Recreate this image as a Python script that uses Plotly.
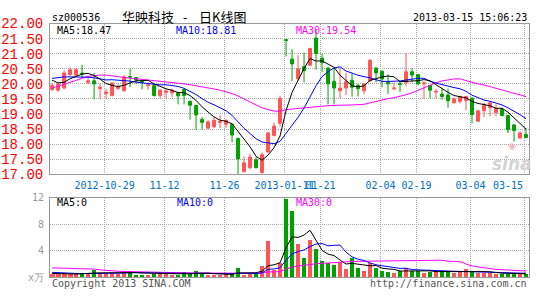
import plotly.graph_objects as go

# ---------------- data ----------------
dates = [
    "2012-10-16", "2012-10-17", "2012-10-18", "2012-10-19", "2012-10-22", "2012-10-23", "2012-10-24",
    "2012-10-25", "2012-10-26", "2012-10-29", "2012-10-30", "2012-10-31", "2012-11-01", "2012-11-02",
    "2012-11-05", "2012-11-06", "2012-11-07", "2012-11-08", "2012-11-09", "2012-11-12", "2012-11-13",
    "2012-11-14", "2012-11-15", "2012-11-16", "2012-11-19", "2012-11-20", "2012-11-21", "2012-11-22",
    "2012-11-23", "2012-11-26", "2012-11-27", "2012-11-28", "2012-11-29", "2012-11-30", "2012-12-03",
    "2012-12-04", "2012-12-05", "2012-12-06", "2012-12-07", "2013-01-11", "2013-01-14", "2013-01-15",
    "2013-01-16", "2013-01-17", "2013-01-18", "2013-01-21", "2013-01-22", "2013-01-23", "2013-01-24",
    "2013-01-25", "2013-01-28", "2013-01-29", "2013-01-30", "2013-01-31", "2013-02-01", "2013-02-04",
    "2013-02-05", "2013-02-06", "2013-02-07", "2013-02-08", "2013-02-18", "2013-02-19", "2013-02-20",
    "2013-02-21", "2013-02-22", "2013-02-25", "2013-02-26", "2013-02-27", "2013-02-28", "2013-03-01",
    "2013-03-04", "2013-03-05", "2013-03-06", "2013-03-07", "2013-03-08", "2013-03-11", "2013-03-12",
    "2013-03-13", "2013-03-14", "2013-03-15",
]

open_ = [19.81, 19.79, 19.86, 20.31, 20.29, 20.36, 20.05, 20.10, 19.84, 19.68,
         19.61, 19.85, 19.77, 20.24, 20.21, 20.10, 19.94, 19.94, 19.61, 19.72,
         19.70, 19.70, 19.81, 19.42, 19.28, 18.82, 18.53, 18.58, 18.72, 18.66,
         18.66, 18.19, 17.08, 17.22, 17.48, 17.06, 17.74, 18.29, 18.69, 21.47,
         20.82, 20.17, 20.57, 20.62, 21.52, 20.85, 20.52, 20.08, 19.77, 19.86,
         20.12, 19.95, 19.77, 20.10, 20.52, 20.42, 20.05, 19.84, 20.00, 20.05,
         20.40, 20.31, 20.00, 19.95, 19.73, 19.66, 19.63, 19.37, 19.42, 19.45,
         19.53, 18.76, 19.11, 19.21, 19.05, 19.16, 18.95, 18.64, 18.20, 18.32]
high = [20.02, 20.06, 20.45, 20.55, 20.52, 20.63, 20.26, 20.36, 20.00, 19.84,
        20.05, 20.00, 20.29, 20.50, 20.21, 20.15, 20.05, 20.00, 19.84, 19.84,
        19.84, 19.74, 19.84, 19.45, 19.30, 18.90, 18.79, 18.90, 18.97, 18.82,
        18.69, 18.22, 17.59, 17.69, 17.57, 17.72, 18.40, 18.72, 19.61, 21.47,
        21.15, 20.95, 21.04, 21.20, 21.82, 21.00, 20.57, 20.52, 20.52, 20.36,
        20.36, 20.00, 20.02, 20.82, 20.57, 20.44, 20.31, 20.05, 20.10, 21.02,
        20.52, 20.31, 20.08, 19.95, 19.84, 19.84, 19.84, 19.55, 19.61, 19.58,
        19.53, 19.11, 19.37, 19.42, 19.32, 19.21, 18.97, 18.64, 18.43, 18.53]
low = [19.76, 19.74, 19.82, 20.26, 20.26, 20.21, 19.99, 19.49, 19.49, 19.49,
       19.58, 19.80, 19.74, 19.89, 20.00, 19.82, 19.80, 19.58, 19.52, 19.50,
       19.56, 19.32, 19.32, 18.82, 18.48, 18.48, 18.51, 18.53, 18.53, 18.53,
       18.06, 16.99, 17.08, 17.17, 17.19, 17.02, 17.72, 18.25, 18.58, 20.91,
       20.10, 20.10, 20.05, 20.60, 20.47, 20.40, 19.32, 19.32, 19.52, 19.63,
       19.57, 19.58, 19.66, 20.05, 20.05, 19.89, 19.66, 19.79, 19.73, 19.92,
       20.05, 19.95, 19.50, 19.52, 19.52, 19.47, 19.21, 19.35, 19.35, 19.12,
       18.69, 18.74, 18.90, 18.92, 18.92, 18.92, 18.37, 18.08, 18.20, 18.20]
close = [19.95, 19.99, 20.36, 20.47, 20.47, 20.33, 20.10, 20.00, 19.89, 19.73,
         20.03, 19.90, 20.23, 20.22, 20.13, 20.05, 19.97, 19.61, 19.79, 19.76,
         19.79, 19.60, 19.61, 19.29, 18.97, 18.72, 18.74, 18.79, 18.76, 18.79,
         18.30, 17.51, 17.38, 17.57, 17.22, 17.65, 18.37, 18.60, 19.52, 21.44,
         20.66, 20.50, 20.44, 21.17, 21.01, 20.70, 20.00, 19.86, 19.86, 20.07,
         19.89, 19.84, 20.00, 20.78, 20.36, 20.16, 20.00, 19.86, 19.98, 20.40,
         20.29, 20.00, 20.03, 19.79, 19.75, 19.58, 19.44, 19.50, 19.58, 19.58,
         18.98, 19.11, 19.32, 19.37, 19.18, 18.95, 18.48, 18.45, 18.37, 18.22]
volume = [0.43, 0.43, 0.60, 0.43, 0.43, 0.65, 0.45, 1.10, 0.60, 0.53,
          0.60, 0.45, 1.00, 1.00, 0.36, 0.36, 0.36, 0.53, 0.77, 0.45,
          0.36, 0.36, 0.77, 0.45, 1.00, 0.45, 0.36, 0.36, 0.36, 0.45,
          0.53, 1.35, 0.36, 0.53, 0.53, 1.69, 5.50, 1.10, 2.07, 11.9,
          10.0, 4.96, 2.94, 5.68, 4.24, 2.46, 2.07, 1.88, 2.31, 1.20,
          2.94, 1.35, 1.00, 2.07, 1.35, 1.00, 0.77, 0.63, 0.87, 1.45,
          0.87, 1.00, 0.63, 0.77, 0.87, 0.92, 0.77, 0.63, 0.77, 1.25,
          0.87, 0.63, 0.63, 0.63, 0.53, 0.53, 0.53, 0.45, 0.53, 0.45]

# moving-average values before enough in-window history exists
ma5_head = [20.12, 20.03, 20.05, 20.17]
ma10_head = [20.18, 20.21, 20.23, 20.23, 20.23, 20.23, 20.22, 20.20, 20.17]
ma30_head = [19.86, 19.92, 19.98, 20.04, 20.11, 20.18, 20.25, 20.28, 20.29, 20.29,
             20.26, 20.23, 20.21, 20.19, 20.17, 20.15, 20.13, 20.11, 20.09, 20.08,
             20.06, 20.03, 20.00, 19.97, 19.94, 19.91, 19.87, 19.83, 19.79]
vma5_head = [0.55, 0.50, 0.50, 0.48]
vma10_head = [0.72, 0.65, 0.60, 0.57, 0.55, 0.53, 0.52, 0.52, 0.53]
vma30_head = [1.40, 1.40, 1.38, 1.32, 1.28, 1.27, 1.26, 1.22, 1.10, 1.00,
              0.93, 0.88, 0.85, 0.82, 0.80, 0.79, 0.77, 0.76, 0.75, 0.74,
              0.70, 0.67, 0.65, 0.63, 0.62, 0.61, 0.60, 0.59, 0.57]

tick_dates = ["2012-10-29", "2012-11-12", "2012-11-26", "2013-01-11", "2013-01-21",
              "2013-02-04", "2013-02-19", "2013-03-04", "2013-03-15"]
tick_text = ["2012-10-29", "11-12", "11-26", "2013-01-11", "01-21",
             "02-04", "02-19", "03-04", "03-15"]
price_ticks = [17.0, 17.5, 18.0, 18.5, 19.0, 19.5, 20.0, 20.5, 21.0, 21.5, 22.0]
vol_ticks = [0, 4, 8, 12]
vol_tick_text = ["x万", "4", "8", "12"]
ma_last = [18.47, 18.81, 19.54]
vol_ma_last = [0, 0, 0]

# ---------------- helpers ----------------
W, H = 545, 300
def px(x):
    return x / W
def py(y):
    return 1 - y / H

def rolling(vals, n, head):
    out = list(head)
    for i in range(len(head), len(vals)):
        out.append(sum(vals[i - n + 1:i + 1]) / n)
    return out

xs = list(range(len(dates)))
grid_x = [dates.index(d) - 0.25 for d in tick_dates]

RED = "#FF5555"
GREEN = "#00A000"
MONO = "DejaVu Sans Mono"
GRID = "#A8A8A8"
BORDER = "#9A9A9A"
XLAB = "#0070C8"

ma5 = rolling(close, 5, ma5_head)
ma10 = rolling(close, 10, ma10_head)
ma30 = rolling(close, 30, ma30_head)
vma5 = rolling(volume, 5, vma5_head)
vma10 = rolling(volume, 10, vma10_head)
vma30 = rolling(volume, 30, vma30_head)
vol_colors = [RED if c > o else GREEN for o, c in zip(open_, close)]

fig = go.Figure()
fig.add_trace(go.Candlestick(
    x=xs, open=open_, high=high, low=low, close=close,
    increasing=dict(line=dict(color=RED, width=1), fillcolor=RED),
    decreasing=dict(line=dict(color=GREEN, width=1), fillcolor=GREEN),
    whiskerwidth=0, xaxis="x", yaxis="y", showlegend=False, hoverinfo="skip"))
for vals, col in [(ma30, "#FF00FF"), (ma10, "#0000FF"), (ma5, "#000000")]:
    fig.add_trace(go.Scatter(x=xs, y=vals, mode="lines", line=dict(color=col, width=1),
                             xaxis="x", yaxis="y", showlegend=False, hoverinfo="skip"))
fig.add_trace(go.Bar(x=xs, y=volume, marker=dict(color=vol_colors, line=dict(width=0)),
                     width=0.8, xaxis="x2", yaxis="y2", showlegend=False, hoverinfo="skip"))
for vals, col in [(vma30, "#FF00FF"), (vma10, "#0000FF"), (vma5, "#000000")]:
    fig.add_trace(go.Scatter(x=xs, y=vals, mode="lines", line=dict(color=col, width=1),
                             xaxis="x2", yaxis="y2", showlegend=False, hoverinfo="skip"))

# the last date label is pulled inside the plot in the original; draw it as a note
axis_text = tick_text[:-1] + [""]

xdom = [px(50), px(529)]
xr = [-0.35, 79.5]
common_x = dict(domain=xdom, range=xr, tickmode="array", tickvals=grid_x,
                showgrid=True, gridcolor=GRID, griddash="1px,1px", gridwidth=1,
                showline=True, mirror=True, linecolor=BORDER, linewidth=1,
                zeroline=False, tickangle=0)
fig.update_layout(
    width=W, height=H, margin=dict(l=0, r=0, t=0, b=0),
    paper_bgcolor="white", plot_bgcolor="white", showlegend=False,
    boxgap=0.3, bargap=0, hovermode=False,
    xaxis=dict(**common_x, anchor="y", ticktext=axis_text,
               ticks="outside", ticklen=2, tickcolor="rgba(0,0,0,0)",
               tickfont=dict(family=MONO, size=10, color=XLAB),
               rangeslider=dict(visible=False)),
    xaxis2=dict(**common_x, anchor="y2", showticklabels=False, ticks=""),
    yaxis=dict(domain=[py(176.7), py(17.5)], range=[17, 22], anchor="x",
               tickmode="array", tickvals=price_ticks,
               ticktext=["%.2f" % v for v in price_ticks],
               tickfont=dict(family="Liberation Mono", size=14, color="#FF0000"),
               showgrid=True, gridcolor=GRID, griddash="1px,1px",
               showline=True, mirror=True, linecolor=BORDER, linewidth=1,
               zeroline=False, ticks="outside", ticklen=3, tickcolor="rgba(0,0,0,0)"),
    yaxis2=dict(domain=[py(285.3), py(201.7)], range=[0, 12], anchor="x2",
                tickmode="array", tickvals=vol_ticks, ticktext=vol_tick_text,
                tickfont=dict(family=MONO, size=10, color="#999999"),
                showgrid=True, gridcolor=GRID, griddash="1px,1px",
                showline=True, mirror=True, linecolor=BORDER, linewidth=1,
                zeroline=False, ticks="outside", ticklen=3, tickcolor="rgba(0,0,0,0)"),
)

def note(text, x, y, color="#000000", size=10, family=MONO, xanchor="left"):
    fig.add_annotation(text=text, x=px(x), y=py(y), xref="paper", yref="paper",
                       showarrow=False, xanchor=xanchor, yanchor="middle",
                       font=dict(family=family, size=size, color=color))

CJK = "Noto Sans CJK SC"
note("sz000536", 50, 11.5)
note("华映科技", 120, 10.5, size=13, family=CJK)
note("-", 185, 10.5, size=13, family=CJK, xanchor="center")
note("日K线图", 197, 10.5, size=13, family=CJK)
note("2013-03-15 15:06:23", 529, 11.5, xanchor="right")
note("MA5:%.2f" % ma_last[0], 55, 25)
note("MA10:%.2f" % ma_last[1], 174, 25, color="#0000FF")
note("MA30:%.2f" % ma_last[2], 294, 24.5, color="#FF00FF")
note(tick_text[-1], 508, 188.5, color=XLAB, xanchor="center")
note("MA5:%d" % vol_ma_last[0], 55, 206)
note("MA10:%d" % vol_ma_last[1], 175, 206, color="#0000FF")
note("MA30:%d" % vol_ma_last[2], 294, 206, color="#FF00FF")
note("Copyright 2013 SINA.COM", 50, 292.5, color="#555555")
note("http://finance.sina.com.cn", 529, 292.5, color="#555555", xanchor="right")
note("<b><i>sina</i></b>", 512, 166, color="#D4D4D4", size=17, family="DejaVu Sans", xanchor="center")
note("◉", 512, 147, color="#F2B8B8", size=9, family="DejaVu Sans", xanchor="center")

fig.write_html("out.html")
